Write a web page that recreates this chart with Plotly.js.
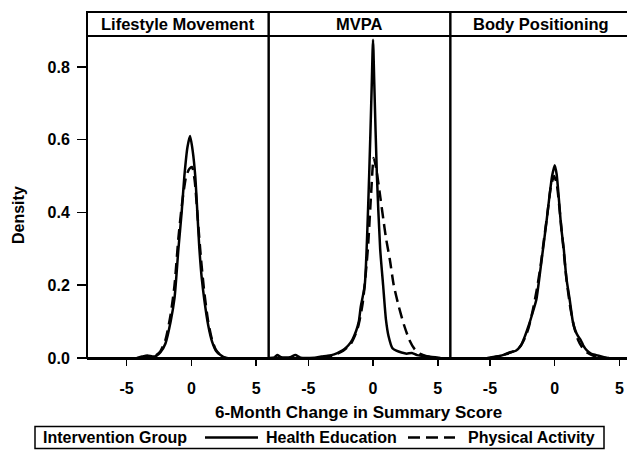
<!DOCTYPE html>
<html>
<head>
<meta charset="utf-8">
<script src="https://cdn.plot.ly/plotly-3.0.1.min.js"></script>
<style>
html,body{margin:0;padding:0;overflow:hidden;background:#fff;}
#chart{width:640px;height:450px;}
</style>
</head>
<body>
<div id="chart"></div>
<script>
// Panels and groups
const panels = ["Lifestyle Movement", "MVPA", "Body Positioning"];
const groups = ["Health Education", "Physical Activity"];
const legendTitle = "Intervention Group";
const xTitle = "6-Month Change in Summary Score";
const yTitle = "Density";
const xTicks = [-5, 0, 5];
const xTickText = ["-5", "0", "5"];
const yTicks = [0, 0.2, 0.4, 0.6, 0.8];
const yTickText = ["0.0", "0.2", "0.4", "0.6", "0.8"];

// Lifestyle Movement - Health Education (solid)
const lifeHE_x = [-4.2,-3.8,-3.4,-3.0,-2.7,-2.4,-2.0,-1.6,-1.3,-1.0,-0.75,-0.54,-0.3,-0.1,0.1,0.3,0.62,0.8,1.0,1.3,1.6,1.9,2.25,2.6,2.8];
const lifeHE_y = [0,0.004,0.007,0.004,0.006,0.015,0.04,0.1,0.165,0.3,0.4,0.5,0.58,0.61,0.57,0.5,0.3,0.22,0.16,0.09,0.045,0.02,0.008,0.001,0];
// Lifestyle Movement - Physical Activity (dashed)
const lifePA_x = [-4.0,-3.6,-3.2,-2.8,-2.4,-2.0,-1.6,-1.3,-1.0,-0.7,-0.4,-0.15,0.05,0.25,0.5,0.75,1.0,1.3,1.6,1.9,2.3,2.7];
const lifePA_y = [0,0.003,0.005,0.006,0.018,0.05,0.12,0.2,0.33,0.43,0.5,0.52,0.525,0.49,0.38,0.27,0.18,0.1,0.05,0.022,0.006,0];

// MVPA - Health Education (solid)
const mvpaHE_x = [-8.0,-7.6,-7.4,-7.1,-6.4,-6.0,-5.6,-4.5,-4.0,-3.5,-3.0,-2.5,-2.2,-1.9,-1.6,-1.3,-1.1,-0.95,-0.64,-0.3,-0.1,0,0.1,0.3,0.55,0.78,1.0,1.2,1.5,1.8,2.2,2.6,3.0,3.4,3.8,4.3,4.8,5.2];
const mvpaHE_y = [0,0.002,0.008,0.002,0.002,0.008,0.001,0.001,0.004,0.006,0.01,0.018,0.025,0.035,0.05,0.075,0.1,0.14,0.2,0.5,0.75,0.875,0.75,0.5,0.3,0.2,0.105,0.06,0.027,0.02,0.015,0.012,0.014,0.008,0.006,0.004,0.002,0];
// MVPA - Physical Activity (dashed)
const mvpaPA_x = [-4.0,-3.0,-2.3,-1.7,-1.2,-0.8,-0.4,-0.15,0.05,0.25,0.57,0.8,1.0,1.3,1.6,2.0,2.4,2.8,3.2,3.6,4.2,4.8];
const mvpaPA_y = [0,0.008,0.02,0.04,0.08,0.15,0.3,0.45,0.55,0.52,0.44,0.38,0.33,0.27,0.2,0.14,0.09,0.05,0.025,0.012,0.004,0];

// Body Positioning - Health Education (solid)
const bodyHE_x = [-5.0,-4.6,-4.0,-3.5,-3.0,-2.6,-2.3,-2.0,-1.7,-1.42,-1.15,-0.9,-0.65,-0.44,-0.2,0,0.15,0.33,0.5,0.7,0.9,1.16,1.4,1.6,1.8,2.0,2.2,2.5,2.8,3.2,3.6,4.0];
const bodyHE_y = [0,0.003,0.008,0.015,0.02,0.035,0.06,0.09,0.125,0.16,0.23,0.3,0.37,0.434,0.5,0.53,0.505,0.434,0.36,0.3,0.22,0.16,0.1,0.075,0.06,0.05,0.035,0.02,0.012,0.008,0.004,0];
// Body Positioning - Physical Activity (dashed)
const bodyPA_x = [-5.2,-4.5,-3.8,-3.2,-2.7,-2.3,-2.0,-1.7,-1.4,-1.1,-0.85,-0.55,-0.3,-0.05,0.15,0.4,0.65,0.9,1.2,1.5,1.8,2.1,2.5,3.0,3.5,4.2];
const bodyPA_y = [0,0.004,0.01,0.018,0.03,0.055,0.085,0.13,0.185,0.25,0.32,0.4,0.47,0.5,0.48,0.4,0.31,0.22,0.14,0.085,0.05,0.03,0.015,0.006,0.002,0];

const series = [
  [lifeHE_x, lifeHE_y, lifePA_x, lifePA_y],
  [mvpaHE_x, mvpaHE_y, mvpaPA_x, mvpaPA_y],
  [bodyHE_x, bodyHE_y, bodyPA_x, bodyPA_y]
];

const FONT = "Liberation Sans, Arial, sans-serif";
const BF = {family: FONT, size: 16, color: "#000", weight: "bold"};
const SOLID = {color: "#000", width: 2.5};
const DASHED = {color: "#000", width: 2.5, dash: "11px,6px"};

const data = [];
series.forEach((s, i) => {
  const ax = i === 0 ? "" : String(i + 1);
  data.push({x: s[0], y: s[1], xaxis: "x" + ax, yaxis: "y" + ax, type: "scatter", mode: "lines",
    name: groups[0], showlegend: false, line: Object.assign({shape: "spline", smoothing: 0.6}, SOLID)});
  data.push({x: s[2], y: s[3], xaxis: "x" + ax, yaxis: "y" + ax, type: "scatter", mode: "lines",
    name: groups[1], showlegend: false, line: Object.assign({shape: "spline", smoothing: 0.6}, DASHED)});
});

const W = 640, H = 450, L = 87, R = 8, T = 36, B = 92;
const PW = W - L - R, PH = H - T - B;
const px = v => (v - L) / PW;
const py = v => (H - B - v) / PH;
const hdr = py(12);
const legY = py(437.5);

const layout = {
  width: W, height: H,
  margin: {l: L, r: R, t: T, b: B, autoexpand: false},
  paper_bgcolor: "#fff", plot_bgcolor: "#fff",
  font: BF,
  showlegend: false,
  shapes: [
    // legend frame and keys
    {type: "rect", xref: "paper", yref: "paper", x0: px(35), x1: px(604), y0: py(448.5), y1: py(426.5),
      line: {color: "#000", width: 1.5}},
    {type: "line", xref: "paper", yref: "paper", x0: px(205), x1: px(258), y0: legY, y1: legY, line: SOLID},
    {type: "line", xref: "paper", yref: "paper", x0: px(408), x1: px(455), y0: legY, y1: legY,
      line: {color: "#000", width: 2.5, dash: "12px,6px"}}
  ],
  annotations: [
    {text: legendTitle, xref: "paper", yref: "paper", x: px(41), y: legY, xanchor: "left", yanchor: "middle",
      showarrow: false, font: BF},
    {text: groups[0], xref: "paper", yref: "paper", x: px(264), y: legY, xanchor: "left", yanchor: "middle",
      showarrow: false, font: BF},
    {text: groups[1], xref: "paper", yref: "paper", x: px(466), y: legY, xanchor: "left", yanchor: "middle",
      showarrow: false, font: BF}
  ]
};

const domains = [[0, 1/3], [1/3, 2/3], [2/3, 1]];
panels.forEach((p, i) => {
  const ax = i === 0 ? "" : String(i + 1);
  layout["xaxis" + ax] = {
    domain: domains[i], range: [-8.06, 5.97], anchor: "y" + ax,
    tickvals: xTicks, ticktext: xTickText, ticks: "outside", ticklen: 6, tickwidth: 1.5, tickcolor: "#000",
    showline: true, linecolor: "#000", linewidth: 1.5, showgrid: false, zeroline: false,
    ticklabelstandoff: 9, tickfont: BF, fixedrange: true
  };
  layout["yaxis" + ax] = {
    domain: [0, 1], range: [0, 0.885], anchor: "x" + ax,
    tickvals: yTicks, ticktext: yTickText,
    ticks: i === 0 ? "outside" : "", ticklen: 9, tickwidth: 1.5, tickcolor: "#000",
    showticklabels: i === 0, showline: false, showgrid: false, zeroline: false,
    ticklabelstandoff: 4, tickfont: BF, fixedrange: true
  };
  layout.shapes.push({type: "rect", xref: "x" + ax + " domain", yref: "paper", x0: 0, x1: 1, y0: 0, y1: hdr,
    line: {color: "#000", width: 2}});
  layout.shapes.push({type: "line", xref: "x" + ax + " domain", yref: "paper", x0: 0, x1: 1, y0: 1, y1: 1,
    line: {color: "#000", width: 2}});
  layout.annotations.push({text: p, xref: "x" + ax + " domain", yref: "paper", x: 0.5, y: (1 + hdr) / 2,
    xanchor: "center", yanchor: "middle", showarrow: false,
    font: {family: FONT, size: 16.5, color: "#000", weight: "bold"}});
});

layout.annotations.push({text: xTitle, xref: "paper", yref: "paper",
  x: px(358.5), y: py(412), xanchor: "center", yanchor: "middle", showarrow: false,
  font: {family: FONT, size: 17, color: "#000", weight: "bold"}});
layout.annotations.push({text: yTitle, xref: "paper", yref: "paper", textangle: -90,
  x: px(18), y: py(215), xanchor: "center", yanchor: "middle", showarrow: false, font: BF});

Plotly.newPlot("chart", data, layout, {displayModeBar: false, staticPlot: true});
</script>
</body>
</html>
